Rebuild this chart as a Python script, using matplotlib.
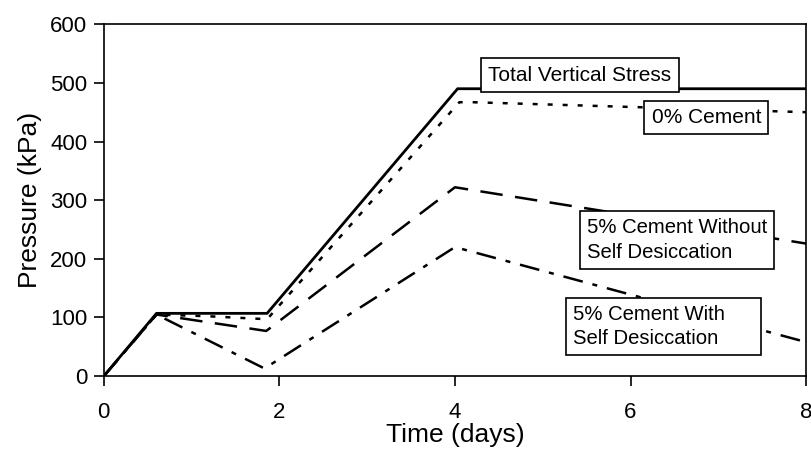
import matplotlib
matplotlib.use("Agg")
import matplotlib.pyplot as plt

plt.rcParams["font.family"] = ["Liberation Sans", "DejaVu Sans"]

# time (days) and pressure (kPa)
t_total = [0, 0.6, 1.86, 4.03, 8.0]
p_total = [0, 107, 107, 490, 490]

t_zero = [0, 0.6, 1.2, 1.86, 4.05, 4.2, 8.0]
p_zero = [0, 105, 102, 97, 467, 467, 450]

t_without = [0, 0.6, 1.85, 4.0, 8.0]
p_without = [0, 105, 77, 322, 226]

t_with = [0, 0.6, 1.83, 4.0, 8.0]
p_with = [0, 105, 13, 220, 58]

x_ticks = [0, 2, 4, 6, 8]
y_ticks = [0, 100, 200, 300, 400, 500, 600]

fig = plt.figure(figsize=(8.11, 4.57), dpi=100)
ax = fig.add_axes([0.128, 0.177, 0.866, 0.77])

ax.plot(t_total, p_total, color="black", lw=2.0, ls="-")
ax.plot(t_zero, p_zero, color="black", lw=1.8, ls=(0, (2, 4)))
ax.plot(t_without, p_without, color="black", lw=1.8, ls=(0, (9, 5)))
ax.plot(t_with, p_with, color="black", lw=1.8, ls=(0, (8, 4, 2, 4)))

box = dict(boxstyle="square,pad=0.35", fc="white", ec="black", lw=1.2)
ax.text(4.38, 513, "Total Vertical Stress", fontsize=15, ha="left", va="center", bbox=box)
ax.text(6.24, 441, "0% Cement", fontsize=15, ha="left", va="center", bbox=box)
ax.text(5.5, 232, "5% Cement Without\nSelf Desiccation", fontsize=14.6, ha="left", va="center",
        bbox=box, linespacing=1.35)
ax.text(5.35, 85, "5% Cement With     \nSelf Desiccation", fontsize=14.6, ha="left", va="center",
        bbox=box, linespacing=1.35)

ax.set_xlim(0, 8)
ax.set_ylim(0, 600)
ax.set_xticks(x_ticks)
ax.set_yticks(y_ticks)
ax.tick_params(direction="out", length=7, width=1.2, labelsize=16)
ax.tick_params(axis="x", pad=12)
ax.tick_params(axis="y", pad=5)
for s in ax.spines.values():
    s.set_linewidth(1.2)

ax.set_xlabel("Time (days)", fontsize=19, labelpad=0)
ax.set_ylabel("Pressure (kPa)", fontsize=19, labelpad=6)

fig.savefig("out.png", dpi=100)
